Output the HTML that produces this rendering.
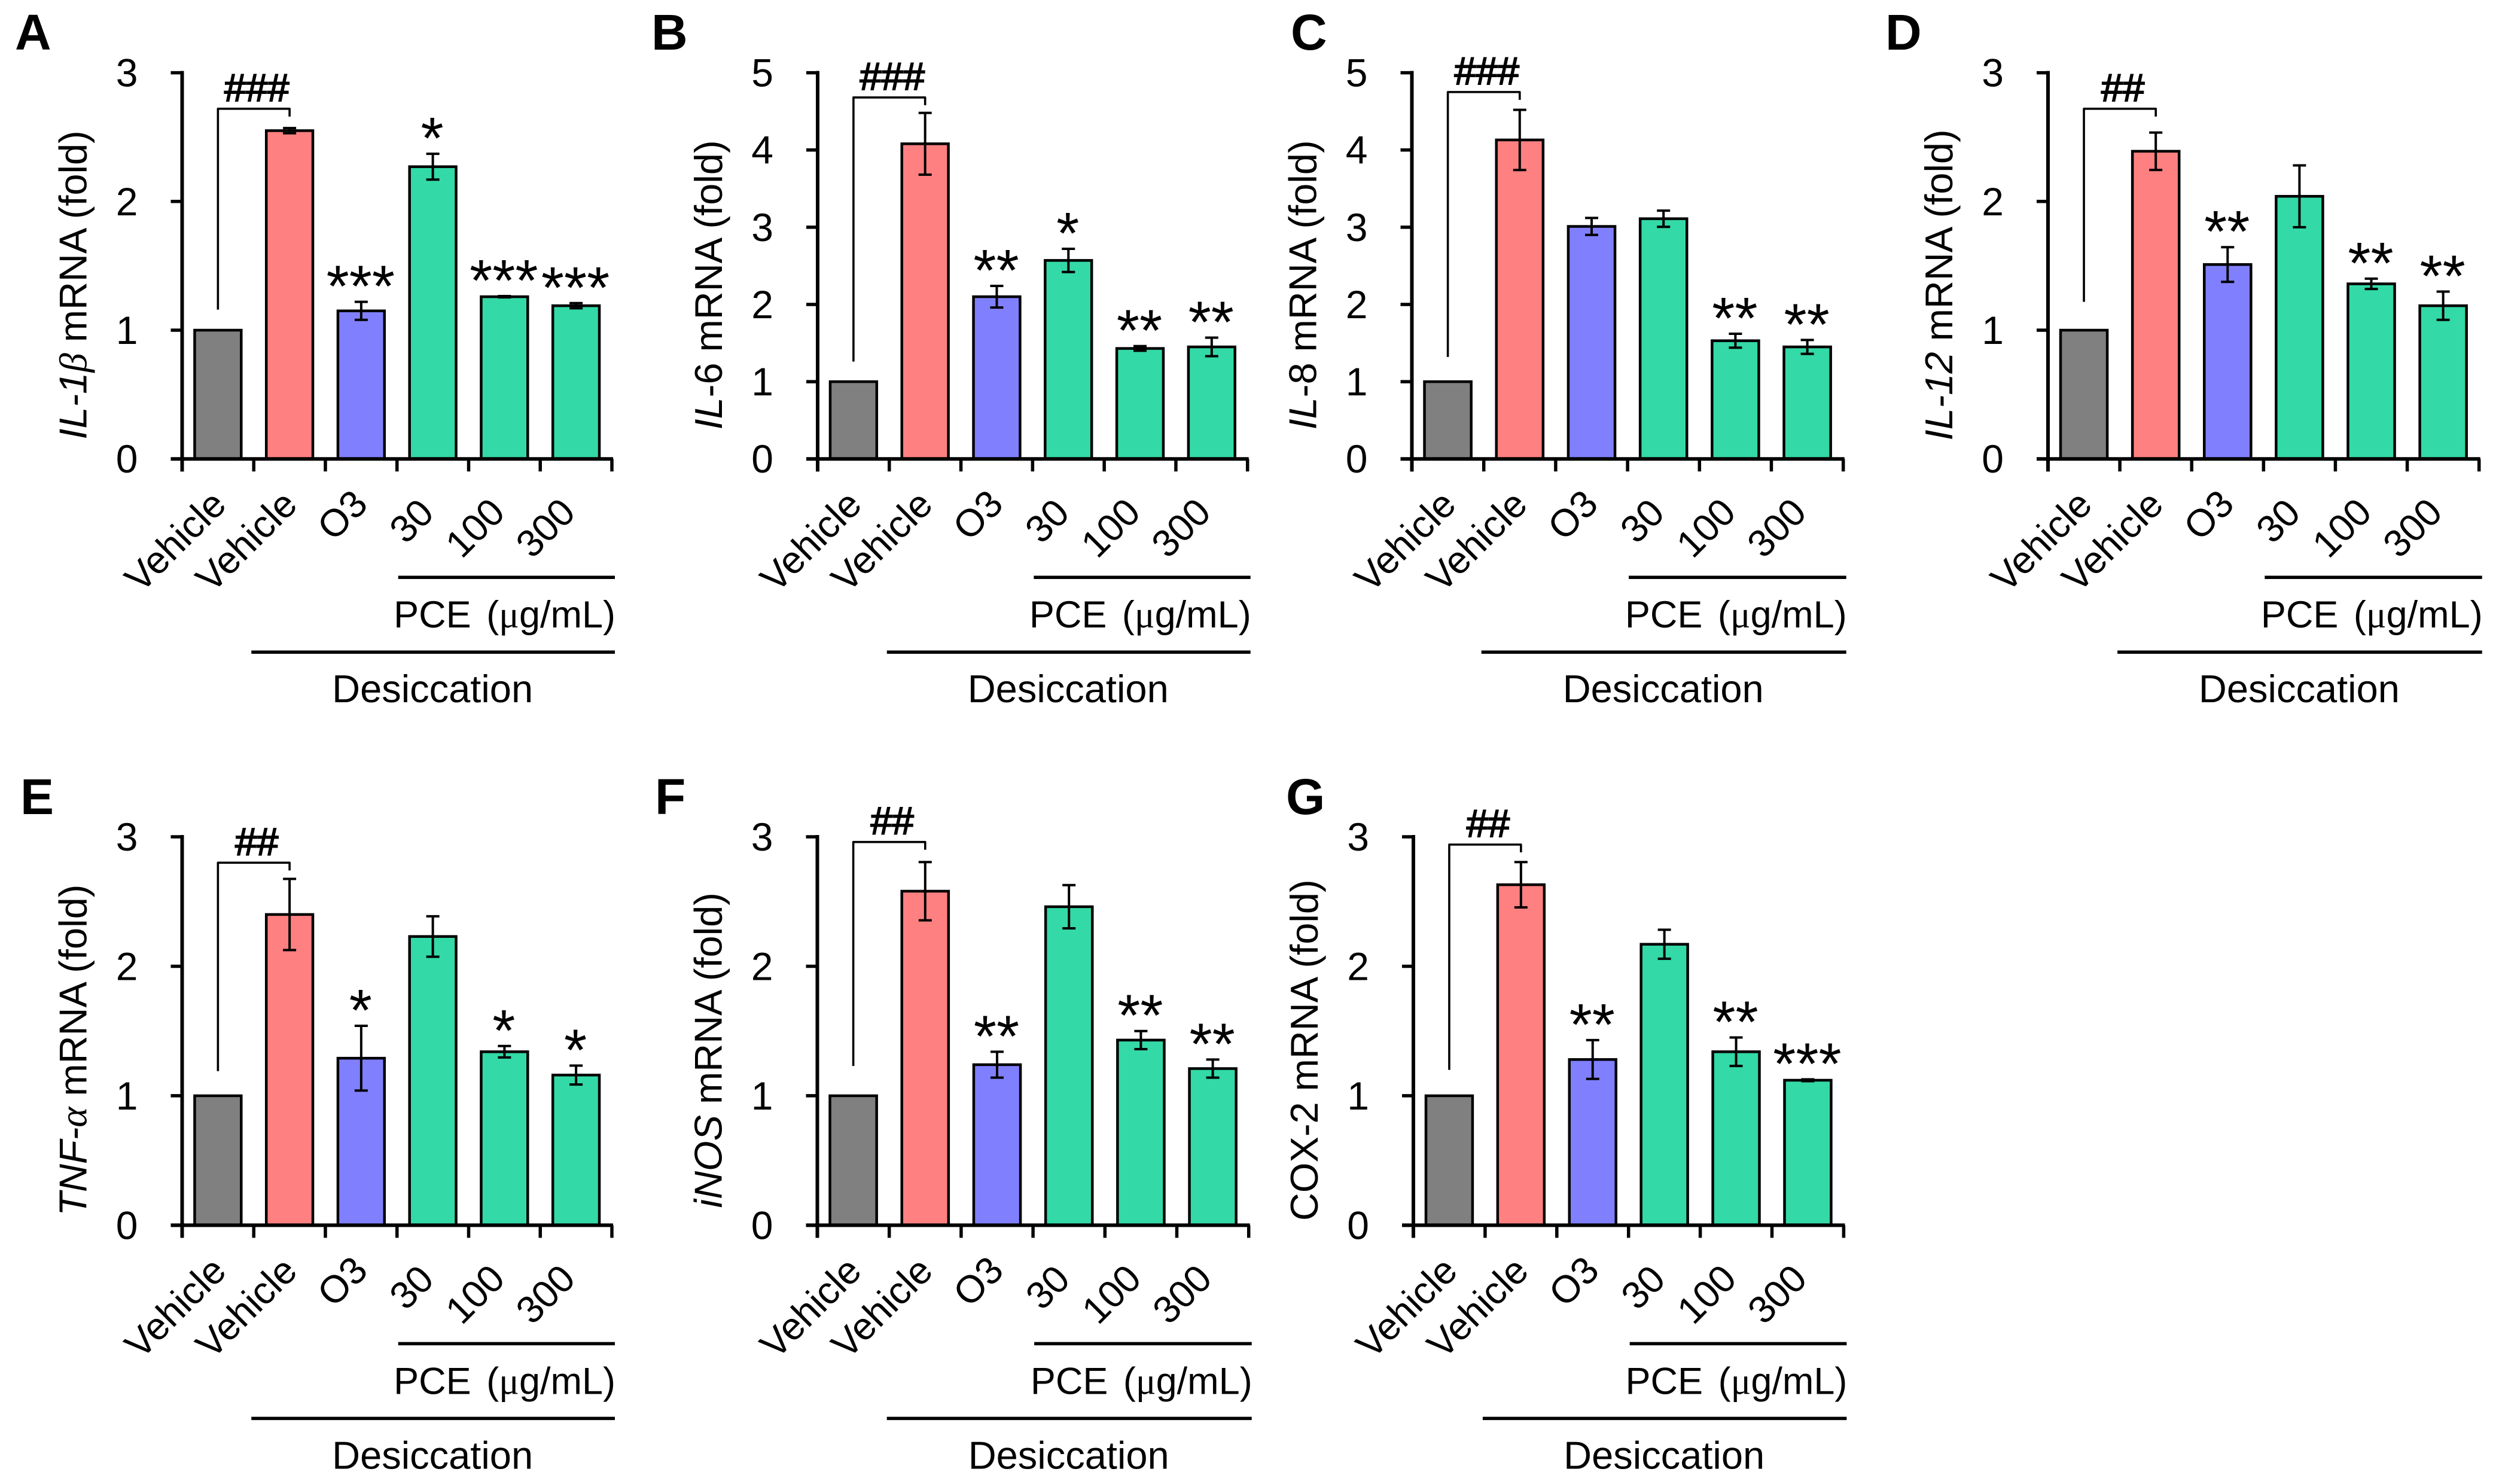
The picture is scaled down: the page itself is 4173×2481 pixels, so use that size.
<!DOCTYPE html>
<html lang="en">
<head>
<meta charset="utf-8">
<title>mRNA expression bar charts</title>
<style>
html,body{margin:0;padding:0;background:#fff;}
svg{display:block;font-family:"Liberation Sans",sans-serif;fill:#000;}
</style>
</head>
<body>
<svg id="chart" xmlns="http://www.w3.org/2000/svg" width="4173" height="2481" viewBox="0 0 4173 2481">
<rect width="4173" height="2481" fill="#fff"/>
</svg>
<script>
const categories = ['Vehicle', 'Vehicle', 'O3', '30', '100', '300'];
const barColors = ['#808080', '#FF8080', '#8080FF', '#33D9A6', '#33D9A6', '#33D9A6'];
const ticksToThree = [0, 1, 2, 3];
const ticksToFive = [0, 1, 2, 3, 4, 5];

const il1bValues = [1, 2.55, 1.15, 2.27, 1.26, 1.19];
const il1bErrors = [0, 0.02, 0.07, 0.1, 0.005, 0.02];
const il1bStars = ['', '', '***', '*', '***', '***'];

const il6Values = [1, 4.08, 2.1, 2.57, 1.43, 1.45];
const il6Errors = [0, 0.4, 0.14, 0.15, 0.03, 0.12];
const il6Stars = ['', '', '**', '*', '**', '**'];

const il8Values = [1, 4.13, 3.01, 3.11, 1.53, 1.45];
const il8Errors = [0, 0.39, 0.11, 0.105, 0.09, 0.09];
const il8Stars = ['', '', '', '', '**', '**'];

const il12Values = [1, 2.39, 1.51, 2.04, 1.36, 1.19];
const il12Errors = [0, 0.145, 0.135, 0.24, 0.04, 0.11];
const il12Stars = ['', '', '**', '', '**', '**'];

const tnfValues = [1, 2.4, 1.29, 2.23, 1.34, 1.16];
const tnfErrors = [0, 0.275, 0.25, 0.156, 0.044, 0.073];
const tnfStars = ['', '', '*', '', '*', '*'];

const inosValues = [1, 2.58, 1.24, 2.46, 1.43, 1.21];
const inosErrors = [0, 0.225, 0.1, 0.167, 0.07, 0.07];
const inosStars = ['', '', '**', '', '**', '**'];

const cox2Values = [1, 2.63, 1.28, 2.17, 1.34, 1.12];
const cox2Errors = [0, 0.175, 0.15, 0.112, 0.11, 0.007];
const cox2Stars = ['', '', '**', '', '**', '***'];

/* Layout of each panel (pixels) plus bracket levels (axis units) */
const rows = [{top: 121.6, bottom: 767.2}, {top: 1399, bottom: 2048.4}];
const labelShift = [{dx: 17, dy: 80}, {dx: 16, dy: 80}, {dx: 14, dy: 79}, {dx: 5, dy: 94}, {dx: 4, dy: 93}, {dx: 2, dy: 93}];

const panels = [
  {letter: 'A', letterX: 25, row: 0, left: 304.5, right: 1023, ticks: ticksToThree, values: il1bValues, errors: il1bErrors, stars: il1bStars, hash: '###', bracketTop: 2.72, bracketBottom: 1.16,
   title: '<tspan font-style="italic">IL-1</tspan><tspan font-family="Liberation Serif" font-style="italic">β</tspan> mRNA (fold)'},
  {letter: 'B', letterX: 1089, row: 0, left: 1367, right: 2085.7, ticks: ticksToFive, values: il6Values, errors: il6Errors, stars: il6Stars, hash: '###', bracketTop: 4.68, bracketBottom: 1.26,
   title: '<tspan font-style="italic">IL</tspan>-6 mRNA (fold)'},
  {letter: 'C', letterX: 2158, row: 0, left: 2360.5, right: 3081.7, ticks: ticksToFive, values: il8Values, errors: il8Errors, stars: il8Stars, hash: '###', bracketTop: 4.75, bracketBottom: 1.32,
   title: '<tspan font-style="italic">IL</tspan>-8 mRNA (fold)'},
  {letter: 'D', letterX: 3152, row: 0, left: 3424, right: 4144.7, ticks: ticksToThree, values: il12Values, errors: il12Errors, stars: il12Stars, hash: '##', bracketTop: 2.72, bracketBottom: 1.22,
   title: '<tspan font-style="italic">IL-12</tspan> mRNA (fold)'},
  {letter: 'E', letterX: 34, row: 1, left: 304.5, right: 1023, ticks: ticksToThree, values: tnfValues, errors: tnfErrors, stars: tnfStars, hash: '##', bracketTop: 2.80, bracketBottom: 1.19,
   title: '<tspan font-style="italic">TNF-</tspan><tspan font-family="Liberation Serif" font-style="italic">α</tspan> mRNA (fold)'},
  {letter: 'F', letterX: 1095, row: 1, left: 1366.5, right: 2087.7, ticks: ticksToThree, values: inosValues, errors: inosErrors, stars: inosStars, hash: '##', bracketTop: 2.96, bracketBottom: 1.23,
   title: '<tspan font-style="italic">iNOS</tspan> mRNA (fold)'},
  {letter: 'G', letterX: 2150, row: 1, left: 2363, right: 3082.4, ticks: ticksToThree, values: cox2Values, errors: cox2Errors, stars: cox2Stars, hash: '##', bracketTop: 2.94, bracketBottom: 1.20,
   title: 'COX-2 mRNA (fold)'}
];

const NS = 'http://www.w3.org/2000/svg';
const root = document.getElementById('chart');

function shape(parent, tag, attrs) {
  const el = document.createElementNS(NS, tag);
  for (const k in attrs) el.setAttribute(k, attrs[k]);
  parent.appendChild(el);
  return el;
}
function line(parent, x1, y1, x2, y2, w, cap) {
  return shape(parent, 'line', {x1: x1, y1: y1, x2: x2, y2: y2, stroke: '#000', 'stroke-width': w, 'stroke-linecap': cap || 'butt'});
}

panels.forEach(function (p) {
  const key = p.letter.toLowerCase();
  const row = rows[p.row];
  const g = shape(root, 'g', {});
  
  

  const maxTick = p.ticks[p.ticks.length - 1];
  const yScale = function (v) { return row.bottom - (v / maxTick) * (row.bottom - row.top); };
  const step = (p.right - p.left) / categories.length;
  const xEdge = function (i) { return p.left + i * step; };
  const xCenter = function (i) { return p.left + (i + 0.5) * step; };
  const barW = step * 0.65;

  const letter = shape(g, 'text', {x: p.letterX, y: p.row === 0 ? 83 : 1361, 'font-size': 84, 'font-weight': 'bold'});
  letter.textContent = p.letter;
  
  

  const title = shape(g, 'text', {transform: 'translate(' + (p.left - 160) + ',' + ((row.top + row.bottom) / 2 + 32) + ') rotate(-90)', 'text-anchor': 'middle', 'font-size': 65});
  title.innerHTML = p.title;
  
  

  /* bars */
  p.values.forEach(function (v, i) {
    const bar = shape(g, 'rect', {x: xCenter(i) - barW / 2, y: yScale(v), width: barW, height: row.bottom - yScale(v), fill: barColors[i], stroke: '#000', 'stroke-width': 4.5});
    
    
  });

  /* error bars */
  p.errors.forEach(function (e, i) {
    if (!e) return;
    const hi = yScale(p.values[i] + e);
    const lo = yScale(p.values[i] - e);
    const err = shape(g, 'g', {});
    
    
    line(err, xCenter(i), hi, xCenter(i), lo, 4);
    line(err, xCenter(i) - 11, hi, xCenter(i) + 11, hi, 4);
    line(err, xCenter(i) - 11, lo, xCenter(i) + 11, lo, 4);
  });

  /* significance stars */
  p.stars.forEach(function (s, i) {
    if (!s) return;
    const top = yScale(p.values[i] + p.errors[i]);
    const star = shape(g, 'text', {x: xCenter(i) - 1, y: top - 47 + 55, 'font-size': 98, 'text-anchor': 'middle'});
    star.textContent = s;
    
    
  });

  /* bracket and hashes */
  const bTop = yScale(p.bracketTop);
  const bracket = shape(g, 'path', {d: 'M' + xCenter(0) + ' ' + yScale(p.bracketBottom) + 'V' + bTop + 'H' + xCenter(1) + 'V' + (bTop + 13), fill: 'none', stroke: '#000', 'stroke-width': 3.6, 'stroke-linejoin': 'round'});
  
  
  const hash = shape(g, 'text', {x: (xCenter(0) + xCenter(1)) / 2 + 5, y: bTop - 13, 'font-size': 65, 'text-anchor': 'middle', stroke: '#000', 'stroke-width': 2});
  hash.textContent = p.hash;
  
  

  /* axes */
  const axes = shape(g, 'g', {});
  
  
  line(axes, p.left, row.top - 3, p.left, row.bottom + 21, 6);
  line(axes, p.left - 19, row.bottom, p.right + 2, row.bottom, 6);
  p.ticks.forEach(function (t) {
    line(axes, p.left - 19, yScale(t), p.left, yScale(t), 5.5);
    const lab = shape(axes, 'text', {x: p.left - 74, y: yScale(t) + 23, 'font-size': 66, 'text-anchor': 'end'});
    lab.textContent = t;
    
    
  });
  for (let i = 0; i <= categories.length; i++) {
    line(axes, xEdge(i), row.bottom, xEdge(i), row.bottom + 21, 5.5);
  }

  /* category labels */
  categories.forEach(function (c, i) {
    const ax = xCenter(i) + labelShift[i].dx;
    const ay = row.bottom + labelShift[i].dy;
    const lab = shape(g, 'text', {transform: 'translate(' + ax + ',' + ay + ') rotate(-45)', 'text-anchor': 'end', 'font-size': 64});
    lab.textContent = c;
    
    
  });

  /* group lines and labels */
  const endX = p.right + 5;
  const pceLine = line(g, xEdge(3) + 2, row.bottom + 198, endX, row.bottom + 198, 5.5);
  
  
  const pce = shape(g, 'text', {x: endX + 1, y: row.bottom + 282, 'font-size': 63, 'text-anchor': 'end'});
  pce.innerHTML = 'PCE <tspan dx="8">(</tspan><tspan font-family="Liberation Serif">μ</tspan>g/mL)';
  
  
  const desLine = line(g, xEdge(1) - 4, row.bottom + 323, endX, row.bottom + 323, 5.5);
  
  
  const des = shape(g, 'text', {x: (xEdge(1) + endX) / 2 - 3, y: row.bottom + 407, 'font-size': 65, 'text-anchor': 'middle'});
  des.textContent = 'Desiccation';
  
  
});
</script>
</body>
</html>
